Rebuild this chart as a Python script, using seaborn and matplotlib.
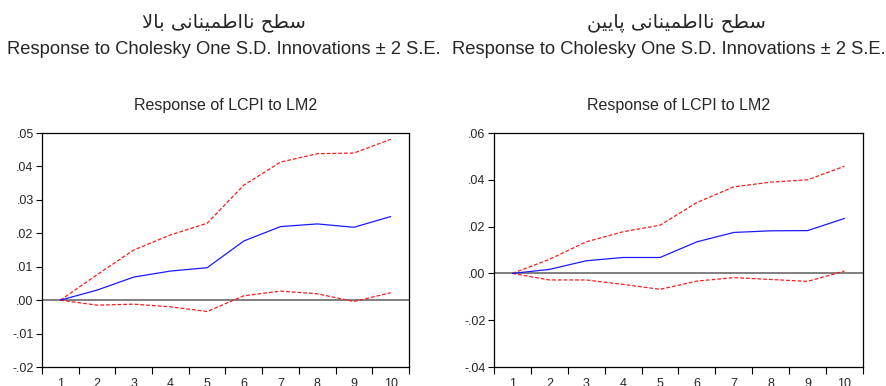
import matplotlib
matplotlib.use("Agg")
import matplotlib.pyplot as plt
import seaborn as sns
import pandas as pd
from matplotlib.ticker import FixedLocator, NullFormatter

# ---------------- data ----------------
periods = [1, 2, 3, 4, 5, 6, 7, 8, 9, 10]
period_labels = ["1", "2", "3", "4", "5", "6", "7", "8", "9", "10"]

left_resp = [0.0, 0.0030, 0.0069, 0.0087, 0.0097, 0.0177, 0.0220, 0.0228, 0.0218, 0.0250]
left_upper = [0.0, 0.0076, 0.0150, 0.0195, 0.0230, 0.0344, 0.0413, 0.0438, 0.0440, 0.0481]
left_lower = [0.0, -0.0015, -0.0012, -0.0020, -0.0034, 0.0013, 0.0027, 0.0019, -0.0004, 0.0022]

right_resp = [0.0, 0.0017, 0.0054, 0.0068, 0.0068, 0.0135, 0.0175, 0.0182, 0.0183, 0.0235]
right_upper = [0.0, 0.0060, 0.0135, 0.0178, 0.0206, 0.0303, 0.0370, 0.0390, 0.0400, 0.0458]
right_lower = [0.0, -0.0028, -0.0028, -0.0047, -0.0068, -0.0033, -0.0018, -0.0026, -0.0034, 0.0010]

left_yticks = [-0.02, -0.01, 0.0, 0.01, 0.02, 0.03, 0.04, 0.05]
left_ylabels = ["-.02", "-.01", ".00", ".01", ".02", ".03", ".04", ".05"]
right_yticks = [-0.04, -0.02, 0.0, 0.02, 0.04, 0.06]
right_ylabels = ["-.04", "-.02", ".00", ".02", ".04", ".06"]

left_header = "سطح نااطمینانی بالا"
right_header = "سطح نااطمینانی پایین"
subtitle = "Response to Cholesky One S.D. Innovations ± 2 S.E."
panel_title = "Response of LCPI to LM2"

# ---------------- simple Arabic-script shaping for display ----------------
FORMS = {  # isolated, final, initial, medial
    "\u0627": ("\uFE8D", "\uFE8E", None, None),
    "\u0628": ("\uFE8F", "\uFE90", "\uFE91", "\uFE92"),
    "\u067E": ("\uFB56", "\uFB57", "\uFB58", "\uFB59"),
    "\u062D": ("\uFEA1", "\uFEA2", "\uFEA3", "\uFEA4"),
    "\u0633": ("\uFEB1", "\uFEB2", "\uFEB3", "\uFEB4"),
    "\u0637": ("\uFEC1", "\uFEC2", "\uFEC3", "\uFEC4"),
    "\u0644": ("\uFEDD", "\uFEDE", "\uFEDF", "\uFEE0"),
    "\u0645": ("\uFEE1", "\uFEE2", "\uFEE3", "\uFEE4"),
    "\u0646": ("\uFEE5", "\uFEE6", "\uFEE7", "\uFEE8"),
    "\u06CC": ("\uFBFC", "\uFBFD", "\uFBFE", "\uFBFF"),
}


def shape_rtl(text):
    out = []
    i = 0
    n = len(text)
    while i < n:
        c = text[i]
        if c not in FORMS:
            out.append(c)
            i += 1
            continue
        prev = text[i - 1] if i > 0 else None
        joins_prev = prev in FORMS and FORMS[prev][2] is not None
        nxt = text[i + 1] if i + 1 < n else None
        if c == "\u0644" and nxt == "\u0627":
            out.append("\uFEFC" if joins_prev else "\uFEFB")
            i += 2
            continue
        joins_next = FORMS[c][2] is not None and nxt in FORMS
        f = FORMS[c]
        if joins_prev and joins_next:
            out.append(f[3])
        elif joins_prev:
            out.append(f[1])
        elif joins_next:
            out.append(f[2])
        else:
            out.append(f[0])
        i += 1
    return "".join(reversed(out))


# ---------------- figure ----------------
sns.set_style("white")
plt.rcParams["font.family"] = ["Liberation Sans", "DejaVu Sans"]

W, H = 887, 386
fig = plt.figure(figsize=(W / 100, H / 100), dpi=100)
fig.patch.set_facecolor("white")

ax1 = fig.add_axes([42 / W, 19 / H, 367 / W, 234 / H])
ax2 = fig.add_axes([494 / W, 19 / H, 369 / W, 234 / H])


def draw(ax, resp, up, lo, yticks, ylabels):
    df = pd.DataFrame({"period": periods, "resp": resp, "upper": up, "lower": lo})
    ax.axhline(0, color="#7f7f7f", lw=1.4, zorder=1)
    sns.lineplot(data=df, x="period", y="upper", ax=ax, color="#ff1a1a",
                 lw=0.9, linestyle=(0, (3, 1.6)), zorder=3)
    sns.lineplot(data=df, x="period", y="lower", ax=ax, color="#ff1a1a",
                 lw=0.9, linestyle=(0, (3, 1.6)), zorder=3)
    sns.lineplot(data=df, x="period", y="resp", ax=ax, color="#1a1aff",
                 lw=0.9, zorder=4)
    ax.set_xlim(0.5, 10.5)
    ax.set_ylim(yticks[0], yticks[-1])
    ax.set_xlabel("")
    ax.set_ylabel("")
    ax.xaxis.set_major_locator(FixedLocator([p - 0.5 for p in periods] + [periods[-1] + 0.5]))
    ax.xaxis.set_major_formatter(NullFormatter())
    ax.xaxis.set_minor_locator(FixedLocator(periods))
    ax.set_xticklabels(period_labels, minor=True)
    ax.tick_params(axis="x", which="major", direction="out", length=5, width=0.8,
                   color="black", bottom=True)
    ax.tick_params(axis="x", which="minor", length=0, pad=8, labelsize=9,
                   bottom=True)
    ax.set_yticks(yticks)
    ax.set_yticklabels(ylabels)
    ax.tick_params(axis="y", direction="out", length=4.5, width=0.8, color="black",
                   labelsize=9, pad=1.5, left=True)
    for s in ax.spines.values():
        s.set_visible(True)
        s.set_color("black")
        s.set_linewidth(0.9)
    ax.set_facecolor("white")


draw(ax1, left_resp, left_upper, left_lower, left_yticks, left_ylabels)
draw(ax2, right_resp, right_upper, right_lower, right_yticks, right_ylabels)

# headers
fig.text(224 / W, 1 - 22 / H, shape_rtl(left_header), ha="center", va="center",
         fontsize=14, family=["DejaVu Sans"])
fig.text(676 / W, 1 - 22 / H, shape_rtl(right_header), ha="center", va="center",
         fontsize=14, family=["DejaVu Sans"])
fig.text(224 / W, 1 - 50 / H, subtitle, ha="center", va="center", fontsize=13.2)
fig.text(669 / W, 1 - 50 / H, subtitle, ha="center", va="center", fontsize=13.2)

fig.text(225.5 / W, 1 - 105 / H, panel_title, ha="center", va="center", fontsize=11.5)
fig.text(678.5 / W, 1 - 105 / H, panel_title, ha="center", va="center", fontsize=11.5)

fig.savefig("out.png", dpi=100)
